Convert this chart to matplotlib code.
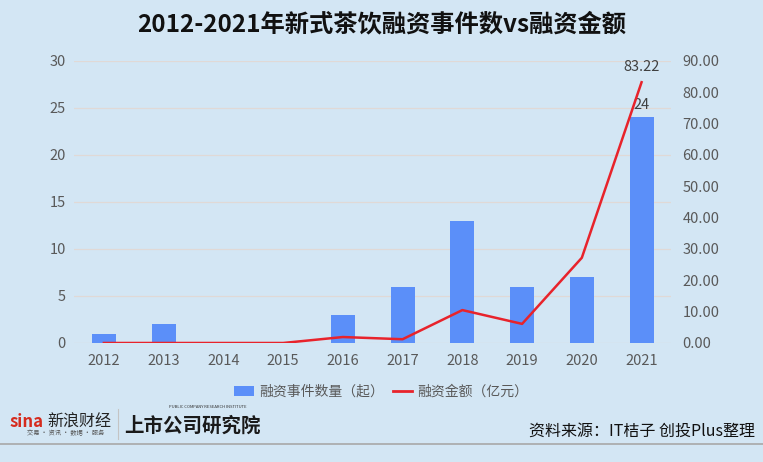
import matplotlib
matplotlib.use("Agg")
import matplotlib.pyplot as plt
from matplotlib.lines import Line2D
from matplotlib.patches import Patch

plt.rcParams['font.family'] = ['Noto Sans CJK SC', 'DejaVu Sans']

years = ['2012', '2013', '2014', '2015', '2016', '2017', '2018', '2019', '2020', '2021']
events = [1, 2, 0, 0, 3, 6, 13, 6, 7, 24]
amounts = [0, 0, 0, 0, 1.9, 1.2, 10.5, 6.1, 27.2, 83.22]

BG = '#d3e6f4'
BAR = '#5b8ff9'
RED = '#e8232b'
TXT = '#595959'

fig = plt.figure(figsize=(7.63, 4.62), dpi=100, facecolor=BG)
ax = fig.add_axes([0.097, 0.2576, 0.783, 0.6104], facecolor=BG)
x = list(range(len(years)))
ax.bar(x, events, width=0.4, color=BAR, zorder=2)
ax.set_xlim(-0.5, 9.5)
ax.set_ylim(0, 30)
ax.set_yticks([0, 5, 10, 15, 20, 25, 30])
ax.set_xticks(x)
ax.set_xticklabels(years)
ax.grid(axis='y', color='#e0d9d6', linewidth=0.9, zorder=0)
for s in ax.spines.values():
    s.set_visible(False)
ax.tick_params(length=0, labelsize=10.5, colors=TXT, pad=6)
ax.tick_params(axis='x', pad=8)
ax.annotate(str(events[-1]), (9, events[-1]), xytext=(0, 4), textcoords='offset points',
            ha='center', va='bottom', fontsize=10.5, color='#404040')

ax2 = ax.twinx()
ax2.plot(x, amounts, color=RED, linewidth=1.8, zorder=3)
ax2.set_ylim(0, 90)
ax2.set_yticks(range(0, 91, 10))
ax2.set_yticklabels([f'{v:.2f}' for v in range(0, 91, 10)])
for s in ax2.spines.values():
    s.set_visible(False)
ax2.tick_params(length=0, labelsize=10.5, colors=TXT, pad=8)
ax2.annotate(f'{amounts[-1]:.2f}', (9, amounts[-1]), xytext=(0, 6), textcoords='offset points',
             ha='center', va='bottom', fontsize=10.5, color='#404040')

fig.text(0.5, 0.946, '2012-2021年新式茶饮融资事件数vs融资金额', ha='center', va='center',
         fontsize=17.5, fontweight='bold', color='#111111')

handles = [Patch(facecolor=BAR, edgecolor='none'), Line2D([0], [0], color=RED, lw=2)]
fig.legend(handles, ['融资事件数量（起）', '融资金额（亿元）'], loc='center',
           bbox_to_anchor=(0.5, 0.152), ncol=2, frameon=False, fontsize=10,
           labelcolor=TXT, handlelength=1.4, handleheight=0.8, columnspacing=0.6, handletextpad=0.4)

# footer
fig.add_artist(Line2D([0, 1], [0.039, 0.039], color='#a8a8a8', lw=1.2, transform=fig.transFigure))
fig.add_artist(Line2D([0.155, 0.155], [0.05, 0.115], color='#c4c4c4', lw=0.8, transform=fig.transFigure))
fig.text(0.012, 0.087, 'sina', fontsize=12, fontweight='bold', style='italic', color='#d52b1e', va='center')
fig.text(0.062, 0.087, '新浪财经', fontsize=11.5, color='#222222', va='center')
fig.text(0.035, 0.062, '交易 · 资讯 · 数据 · 服务', fontsize=4.5, color='#555555', va='center')
fig.text(0.163, 0.077, '上市公司研究院', fontsize=14, fontweight='heavy', style='italic', color='#1a1a1a', va='center')
fig.text(0.222, 0.118, 'PUBLIC COMPANY RESEARCH INSTITUTE', fontsize=3, color='#333333', va='center')
fig.text(0.99, 0.066, '资料来源：IT桔子 创投Plus整理', ha='right', va='center', fontsize=11.5, color='#111111')

fig.savefig('out.png', dpi=100, facecolor=BG)
